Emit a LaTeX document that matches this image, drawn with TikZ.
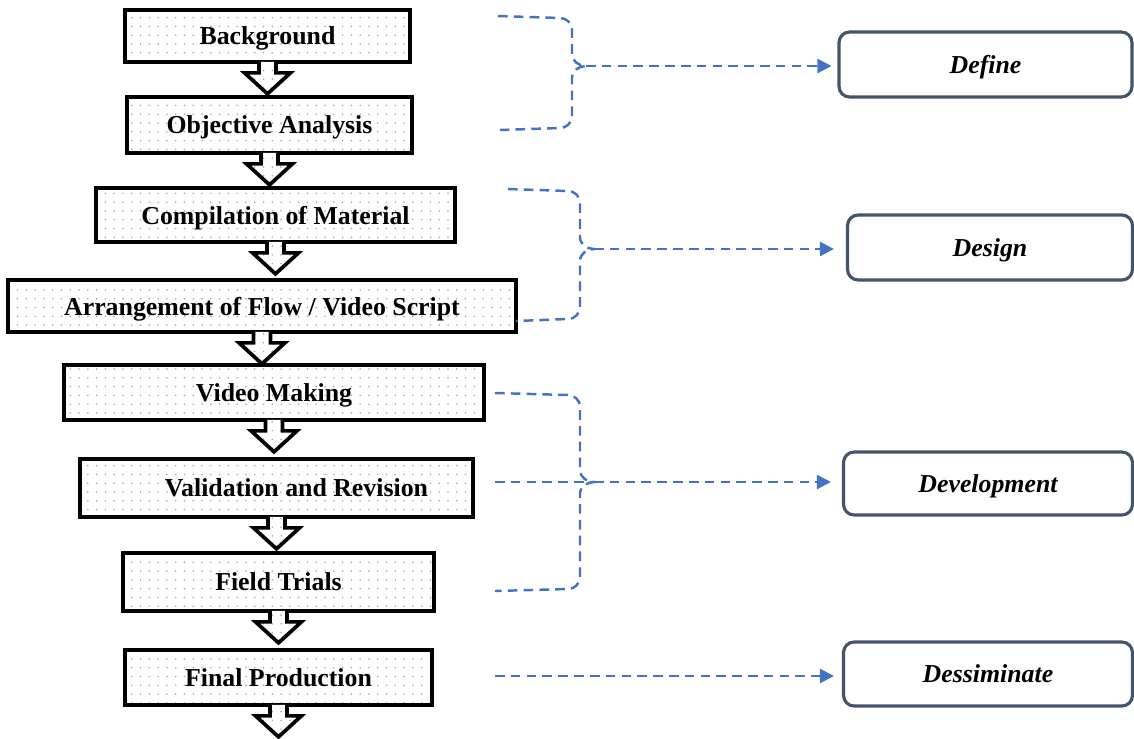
\documentclass[tikz,border=0pt]{standalone}
\usepackage{fontspec}
\setmainfont{Liberation Serif}
\usetikzlibrary{arrows.meta,patterns.meta,calc}

\definecolor{bracketblue}{RGB}{68,114,196}
\definecolor{phaseframe}{RGB}{68,84,106}

\tikzdeclarepattern{
  name=sparsedots,
  type=uncolored,
  bounding box={(-0.7pt,-0.7pt) and (0.7pt,0.7pt)},
  tile size={(5pt,5pt)},
  code={\pgfpathcircle{\pgfpointorigin}{0.5pt}\pgfusepath{fill}}
}

\tikzset{
  stage/.style={draw=black, line width=2.1pt, preaction={fill=white},
    pattern=sparsedots, pattern color=black!35, inner sep=0pt, text depth=0pt,
    font=\fontsize{14.7}{17}\selectfont\bfseries},
  phase/.style={draw=phaseframe, line width=1.8pt, rounded corners=6pt,
    fill=white, inner sep=0pt, text depth=0pt,
    font=\fontsize{14.7}{17}\selectfont\bfseries\itshape},
  stagearrow/.style={draw=black, line width=2.1pt, line join=miter,
    preaction={fill=white}, pattern=sparsedots, pattern color=black!35},
  bracket/.style={draw=bracketblue, line width=1.4pt,
    dash pattern=on 5.5pt off 3.5pt},
  tophase/.style={bracket, -{Triangle[length=8pt,width=8pt]}},
}

% block arrow under a stage box
\newcommand\stagestep[1]{%
  \path[stagearrow] ($(#1.south)+(-8.5,-2)$) -- ++(0,11) -- ++(-14.5,0)
    -- ++(23,21) -- ++(23,-21) -- ++(-14.5,0) -- ++(0,-11);}

% dashed brace: top x, top y, spine x, middle y, bottom x, bottom y, name of beak
\newcommand\phasebrace[7]{%
  \draw[bracket] (#1,#2) -- (#3-12,#2+2) to[out=0,in=90] (#3,#2+14)
    -- (#3,#4-12) to[out=-90,in=180] (#3+14,#4) to[out=180,in=90] (#3,#4+12)
    -- (#3,#6-14) to[out=-90,in=0] (#3-12,#6-2) -- (#5,#6);
  \coordinate (#7) at (#3+14,#4);}

\begin{document}
\begin{tikzpicture}[x=0.02cm, y=-0.02cm]
  \useasboundingbox (0,0) rectangle (1134,738);

  % stages
  \node[stage, minimum width=5.7cm, minimum height=1.04cm] (bg) at (267.5,36) {Background};
  \node[stage, minimum width=5.7cm, minimum height=1.12cm] (obj) at (269.5,125) {Objective Analysis};
  \node[stage, minimum width=7.18cm, minimum height=1.08cm] (comp) at (275.5,215) {Compilation of Material};
  \node[stage, minimum width=10.16cm, minimum height=1.04cm] (arr) at (262,306) {Arrangement of Flow / Video Script};
  \node[stage, minimum width=8.4cm, minimum height=1.1cm] (vid) at (274,392.5) {Video Making};
  \node[stage, minimum width=7.86cm, minimum height=1.16cm] (val) at (276.5,488) {\hspace*{0.8cm}Validation and Revision};
  \node[stage, minimum width=6.22cm, minimum height=1.16cm] (fld) at (278.5,582) {Field Trials};
  \node[stage, minimum width=6.14cm, minimum height=1.1cm] (fin) at (278.5,677.5) {Final Production};

  \foreach \s in {bg,obj,comp,arr,vid,val,fld,fin}
    \stagestep{\s};

  % phases
  \node[phase, minimum width=5.86cm, minimum height=1.3cm] (def) at (985.5,64.5) {Define};
  \node[phase, minimum width=5.7cm, minimum height=1.3cm] (des) at (990,247.5) {Design};
  \node[phase, minimum width=5.78cm, minimum height=1.26cm] (dev) at (988,483.5) {Development};
  \node[phase, minimum width=5.78cm, minimum height=1.28cm] (dis) at (988,674) {Dessiminate};

  % braces and links
  \phasebrace{498}{16}{572}{66}{500}{130}{beakA}
  \phasebrace{508}{189}{580}{249}{516}{321}{beakB}
  \phasebrace{495}{393}{580}{482}{495}{591}{beakC}
  \coordinate (valout) at (495,482);
  \coordinate (finout) at (495,676);

  \draw[tophase, shorten >=0.12cm] (beakA) -- (beakA -| def.west);
  \draw[tophase, shorten >=0.24cm] (beakB) -- (beakB -| des.west);
  \draw[bracket] (valout) -- (valout -| beakC);
  \draw[tophase, shorten >=0.22cm] (beakC) -- (beakC -| dev.west);
  \draw[tophase, shorten >=0.16cm] (finout) -- (finout -| dis.west);
\end{tikzpicture}
\end{document}
